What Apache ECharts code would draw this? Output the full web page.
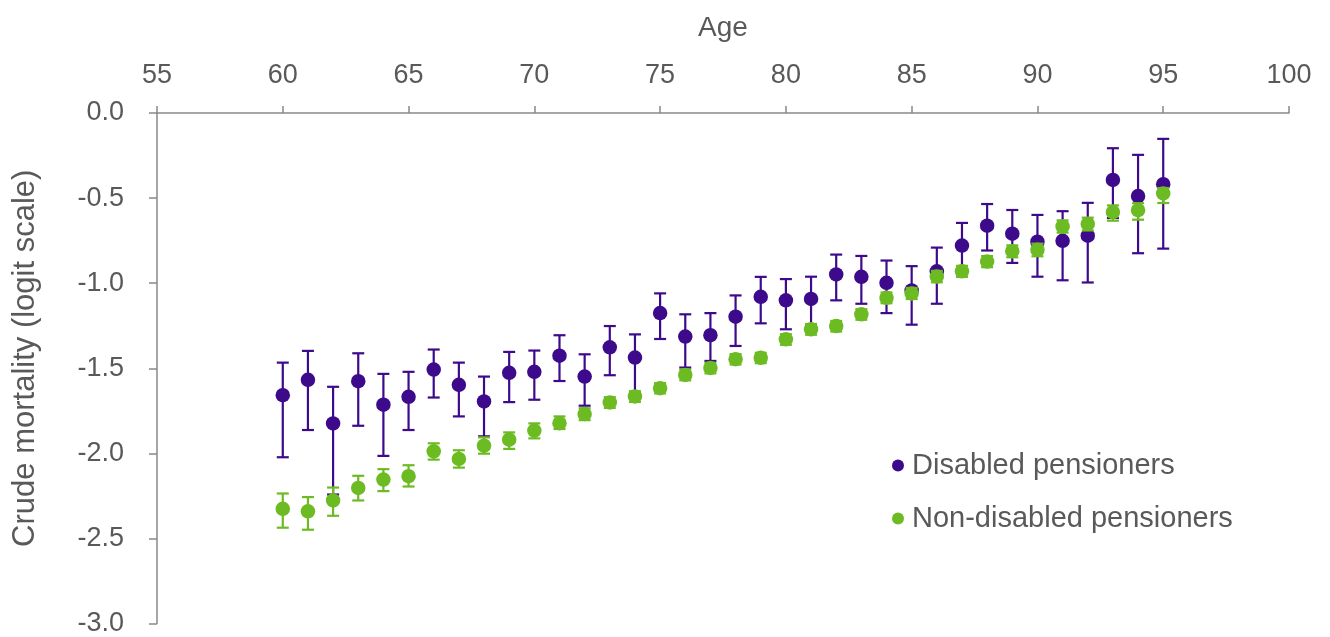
<!DOCTYPE html>
<html>
<head>
<meta charset="utf-8">
<script src="https://cdn.jsdelivr.net/npm/echarts@6/dist/echarts.min.js"></script>
<style>
html,body{margin:0;padding:0;background:#fff;}
#chart{width:1330px;height:637px;}
</style>
</head>
<body>
<div id="chart"></div>
<script>
var ages = [60,61,62,63,64,65,66,67,68,69,70,71,72,73,74,75,76,77,78,79,80,81,82,83,84,85,86,87,88,89,90,91,92,93,94,95];
var disabledMid = [-1.658,-1.568,-1.824,-1.576,-1.714,-1.668,-1.508,-1.597,-1.695,-1.527,-1.521,-1.426,-1.549,-1.377,-1.437,-1.176,-1.314,-1.306,-1.197,-1.080,-1.101,-1.093,-0.949,-0.963,-0.998,-1.043,-0.930,-0.779,-0.662,-0.709,-0.756,-0.751,-0.721,-0.393,-0.488,-0.418];
var disabledHigh = [-1.467,-1.398,-1.609,-1.412,-1.533,-1.521,-1.390,-1.467,-1.549,-1.404,-1.396,-1.306,-1.418,-1.252,-1.301,-1.060,-1.183,-1.176,-1.072,-0.963,-0.976,-0.962,-0.832,-0.840,-0.867,-0.900,-0.791,-0.646,-0.535,-0.570,-0.599,-0.577,-0.528,-0.207,-0.246,-0.152];
var disabledLow = [-2.023,-1.863,-2.242,-1.838,-2.015,-1.863,-1.672,-1.783,-1.900,-1.699,-1.685,-1.575,-1.720,-1.541,-1.645,-1.328,-1.496,-1.457,-1.369,-1.236,-1.271,-1.250,-1.101,-1.121,-1.176,-1.244,-1.121,-0.920,-0.808,-0.881,-0.962,-0.983,-0.996,-0.617,-0.824,-0.797];
var nonMid = [-2.326,-2.341,-2.277,-2.203,-2.154,-2.134,-1.988,-2.033,-1.955,-1.920,-1.866,-1.823,-1.769,-1.701,-1.666,-1.617,-1.539,-1.498,-1.447,-1.439,-1.330,-1.271,-1.252,-1.183,-1.086,-1.060,-0.961,-0.930,-0.873,-0.812,-0.804,-0.667,-0.652,-0.582,-0.571,-0.473];
var nonHigh = [-2.236,-2.257,-2.201,-2.132,-2.093,-2.070,-1.941,-1.982,-1.906,-1.877,-1.824,-1.783,-1.735,-1.670,-1.635,-1.587,-1.508,-1.468,-1.417,-1.409,-1.300,-1.240,-1.222,-1.153,-1.055,-1.028,-0.928,-0.898,-0.841,-0.778,-0.768,-0.631,-0.615,-0.543,-0.530,-0.441];
var nonLow = [-2.437,-2.449,-2.367,-2.277,-2.222,-2.195,-2.037,-2.084,-2.002,-1.974,-1.912,-1.857,-1.805,-1.733,-1.698,-1.648,-1.571,-1.530,-1.478,-1.470,-1.362,-1.303,-1.284,-1.215,-1.118,-1.093,-0.995,-0.963,-0.906,-0.848,-0.842,-0.703,-0.690,-0.633,-0.627,-0.529];
var seriesNames = ['Disabled pensioners','Non-disabled pensioners'];
var xTitle = 'Age';
var yTitle = 'Crude mortality (logit scale)';

var purple = '#3d0a8c';
var green = '#6cbb23';
var textColor = '#595959';
var axisColor = '#898989';
var font = 'Liberation Sans, Arial, sans-serif';

function zipBars(lo, hi){ return ages.map(function(a,i){ return [a, lo[i], hi[i]]; }); }
function zipPts(v){ return ages.map(function(a,i){ return [a, v[i]]; }); }

function errRender(color){
  return function(params, api){
    var x = api.value(0);
    var lo = api.coord([x, api.value(1)]);
    var hi = api.coord([x, api.value(2)]);
    var hw = 6;
    var st = {stroke: color, lineWidth: 2.2};
    return {type:'group', children:[
      {type:'line', shape:{x1:lo[0],y1:lo[1],x2:hi[0],y2:hi[1]}, style:st},
      {type:'line', shape:{x1:lo[0]-hw,y1:lo[1],x2:lo[0]+hw,y2:lo[1]}, style:st},
      {type:'line', shape:{x1:hi[0]-hw,y1:hi[1],x2:hi[0]+hw,y2:hi[1]}, style:st}
    ]};
  };
}

var chart = echarts.init(document.getElementById('chart'), null, {renderer:'canvas'});
chart.setOption({
  animation:false,
  backgroundColor:'#fff',
  textStyle:{fontFamily:font},
  grid:{left:157, right:41, top:113, bottom:12, containLabel:false},
  legend:{
    orient:'vertical', left:887, top:446, itemGap:24,
    icon:'circle', itemWidth:12, itemHeight:12,
    data:seriesNames,
    textStyle:{color:textColor, fontSize:29, fontFamily:font, padding:[0,0,0,3]}
  },
  xAxis:{
    type:'value', position:'top', min:55, max:100, interval:5,
    name:xTitle, nameLocation:'middle', nameGap:71,
    nameTextStyle:{color:textColor, fontSize:28, fontFamily:font},
    axisLine:{show:true, onZero:false, lineStyle:{color:axisColor, width:1.5}},
    axisTick:{show:true, inside:false, length:7, lineStyle:{color:axisColor, width:1.5}},
    axisLabel:{color:textColor, fontSize:27, margin:24, fontFamily:font},
    splitLine:{show:false}
  },
  yAxis:{
    type:'value', min:-3, max:0, interval:0.5,
    name:yTitle, nameLocation:'middle', nameGap:116, nameRotate:90,
    nameTextStyle:{color:textColor, fontSize:31, fontFamily:font, padding:[0,0,0,20]},
    axisLine:{show:true, onZero:false, lineStyle:{color:axisColor, width:1.5}},
    axisTick:{show:true, inside:false, length:8, lineStyle:{color:axisColor, width:1.5}},
    axisLabel:{color:textColor, fontSize:27, margin:33, fontFamily:font,
      formatter:function(v){ return v.toFixed(1); }},
    splitLine:{show:false}
  },
  series:[
    {type:'custom', name:'dErr', renderItem:errRender(purple), data:zipBars(disabledLow, disabledHigh), z:2, silent:true},
    {type:'scatter', name:seriesNames[0], data:zipPts(disabledMid), symbol:'circle', symbolSize:14.5, itemStyle:{color:purple, opacity:1}, z:3},
    {type:'custom', name:'nErr', renderItem:errRender(green), data:zipBars(nonLow, nonHigh), z:4, silent:true},
    {type:'scatter', name:seriesNames[1], data:zipPts(nonMid), symbol:'circle', symbolSize:14.5, itemStyle:{color:green, opacity:1}, z:5}
  ]
});
</script>
</body>
</html>
